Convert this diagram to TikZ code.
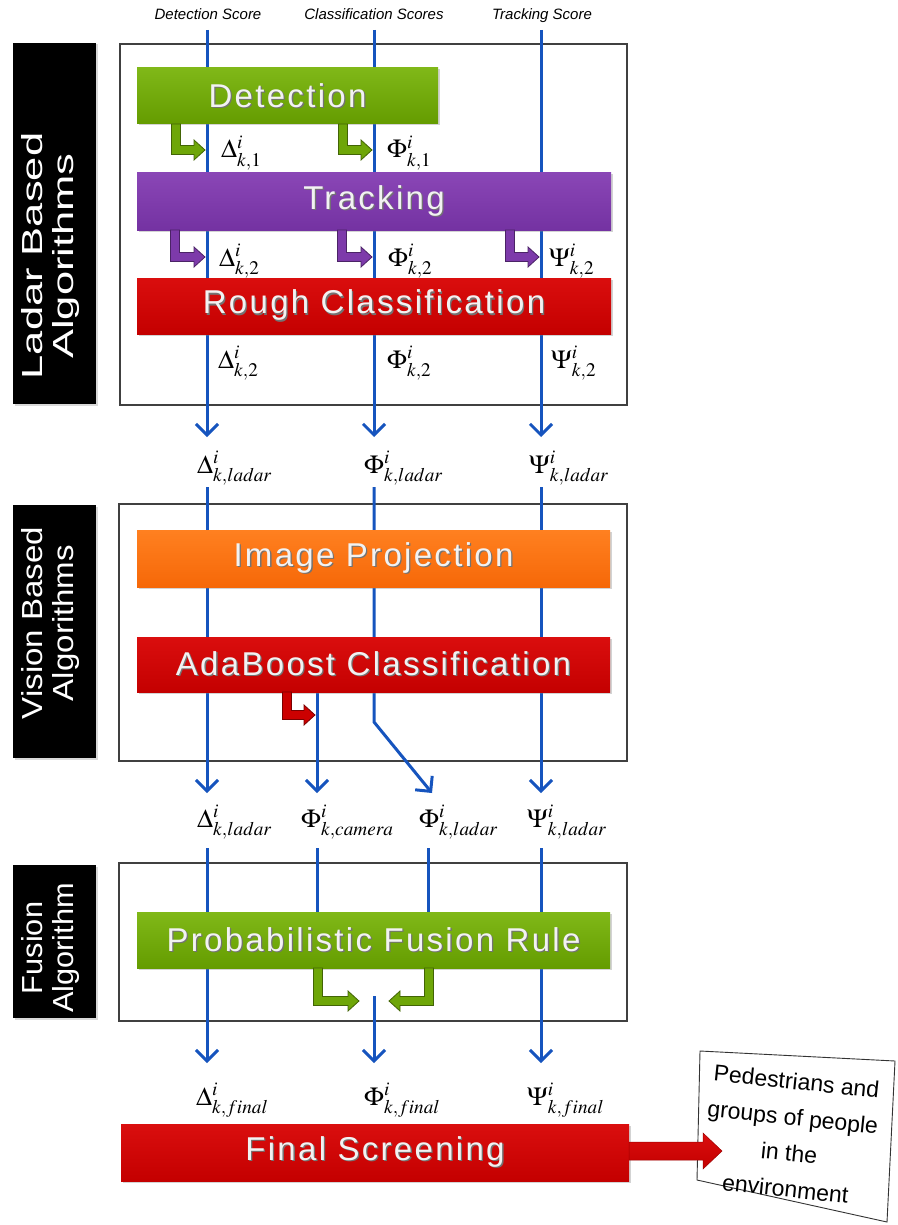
\documentclass[tikz,border=0pt]{standalone}
\usepackage{mathptmx}
\usepackage{fontspec}
\setmainfont{Liberation Sans}
\newfontfamily\boxfont[LetterSpace=7]{Liberation Sans}
\usetikzlibrary{arrows.meta,shadows}
\definecolor{blu}{RGB}{22,84,190}
\definecolor{grnT}{RGB}{128,184,24}
\definecolor{grnB}{RGB}{100,156,0}
\definecolor{grn}{RGB}{110,166,8}
\definecolor{purT}{RGB}{138,70,182}
\definecolor{purB}{RGB}{116,50,162}
\definecolor{pur}{RGB}{125,58,170}
\definecolor{redT}{RGB}{218,14,14}
\definecolor{redB}{RGB}{196,0,0}
\definecolor{rd}{RGB}{204,0,0}
\definecolor{orT}{RGB}{255,128,32}
\definecolor{orB}{RGB}{246,104,8}
\newcommand\shtxt[1]{\rlap{\kern1.3pt\raisebox{-1.3pt}{\color{black!55}#1}}#1}
% L-shaped thick arrow: #1 colour, #2 x, #3 y0, #4 y1, #5 tip x, #6 direction (1 or -1)
\newcommand\Larr[6]{%
  \filldraw[fill=#1, draw=#1!60!black, line width=0.8pt]
    ({#2-#6*4.5},#3) -- ({#2-#6*4.5},{#4+4.5}) -- ({#5-#6*11},{#4+4.5}) -- ({#5-#6*11},{#4+10})
    -- (#5,#4) -- ({#5-#6*11},{#4-10}) -- ({#5-#6*11},{#4-4.5}) -- ({#2+#6*4.5},{#4-4.5})
    -- ({#2+#6*4.5},#3) -- cycle;}
\begin{document}
\begin{tikzpicture}[x=1pt,y=-1pt,
  bline/.style={line width=3pt, draw=blu},
  barb/.style={-{Straight Barb[length=11pt,width=22pt]}},
  frame/.style={draw=black!75, line width=1.3pt},
  proc/.style={inner sep=0pt, text=white!95!black, font=\boxfont\fontsize{33}{36}\selectfont,
     drop shadow={shadow xshift=1.5pt,shadow yshift=-1.5pt,opacity=0.35}},
  sidebox/.style={fill=black, inner sep=0pt, drop shadow={shadow xshift=1.5pt,shadow yshift=-1.5pt,opacity=0.3}},
  sidetxt/.style={rotate=90, text=white, align=center, inner sep=0pt, font=\fontsize{29}{31}\selectfont},
  lab/.style={anchor=base west, inner sep=0pt, font=\fontsize{26}{28}\selectfont},
  toplab/.style={font=\itshape\fontsize{15}{17}\selectfont, anchor=base, inner sep=0pt},
  outtxt/.style={font=\fontsize{23}{36}\selectfont, inner sep=0pt, align=center}]
\useasboundingbox (0,0) rectangle (897,1225);

% section frames
\draw[frame] (120,44) rectangle (627,405);
\draw[frame] (119,504) rectangle (627,761);
\draw[frame] (119,863) rectangle (627,1021);

% side labels
\node[sidebox, minimum width=83pt, minimum height=361pt] (sL) at (54.5,223.5) {};
\node[sidetxt] (sLt) at (51,256) {\scalebox{1.5}[1]{Ladar Based}\\\scalebox{1.5}[1]{Algorithms}};
\node[sidebox, minimum width=83pt, minimum height=253pt] (sV) at (54.5,631.5) {};
\node[sidetxt] (sVt) at (51,623) {\scalebox{1.14}[1]{Vision Based}\\\scalebox{1.14}[1]{Algorithms}};
\node[sidebox, minimum width=83pt, minimum height=153pt] (sF) at (54.5,941.5) {};
\node[sidetxt] (sFt) at (51,948) {\scalebox{1.06}[1]{Fusion}\\\scalebox{1.06}[1]{Algorithm}};

% top labels
\node[toplab] (tD) at (208,20) {Detection Score};
\node[toplab] (tC) at (374,20) {Classification Scores};
\node[toplab] (tT) at (542,20) {Tracking Score};

% coordinates for connectors
\coordinate (aT) at (207,30); \coordinate (bT) at (374,30); \coordinate (cT) at (541,30);
\coordinate (aL) at (207,437); \coordinate (bL) at (374,437); \coordinate (cL) at (541,437);
\coordinate (aV) at (207,487); \coordinate (bV) at (374,487); \coordinate (cV) at (541,487);
\coordinate (bK) at (374,722);
\coordinate (aE) at (207,793); \coordinate (mE) at (317,793); \coordinate (nE) at (432,793); \coordinate (cE) at (541,793);
\coordinate (mS) at (317,692);
\coordinate (aF) at (207,848); \coordinate (mF) at (317,848); \coordinate (nF) at (428,848); \coordinate (cF) at (541,848);
\coordinate (mP) at (317,912); \coordinate (nP) at (428,912);
\coordinate (bP) at (374,996);
\coordinate (aZ) at (207,1063); \coordinate (bZ) at (374,1063); \coordinate (cZ) at (541,1063);

% blue flow lines
\draw[bline,barb] (aT) -- (aL);
\draw[bline,barb] (bT) -- (bL);
\draw[bline,barb] (cT) -- (cL);
\draw[bline,barb] (aV) -- (aE);
\draw[bline,barb] (mS) -- (mE);
\draw[bline,barb] (bV) -- (bK) -- (nE);
\draw[bline,barb] (cV) -- (cE);
\draw[bline,barb] (aF) -- (aZ);
\draw[bline] (mF) -- (mP);
\draw[bline] (nF) -- (nP);
\draw[bline,barb] (bP) -- (bZ);
\draw[bline,barb] (cF) -- (cZ);

% process boxes
\node[proc, top color=grnT, bottom color=grnB, minimum width=301pt, minimum height=56pt] (det) at (287.5,96) {\shtxt{Detection}};
\node[proc, top color=purT, bottom color=purB, minimum width=474pt, minimum height=57pt] (trk) at (374,201.5) {\shtxt{Tracking}};
\node[proc, top color=redT, bottom color=redB, minimum width=474pt, minimum height=56pt] (rgh) at (374,306) {\shtxt{Rough Classification}};
\node[proc, top color=orT, bottom color=orB, minimum width=473pt, minimum height=57pt] (img) at (373.5,558.5) {\shtxt{Image Projection}};
\node[proc, top color=redT, bottom color=redB, minimum width=473pt, minimum height=55pt] (ada) at (373.5,664.5) {\shtxt{AdaBoost Classification}};
\node[proc, top color=grnT, bottom color=grnB, minimum width=473pt, minimum height=56pt] (prb) at (373.5,940) {\shtxt{Probabilistic Fusion Rule}};
\node[proc, top color=redT, bottom color=redB, minimum width=508pt, minimum height=57pt] (fin) at (375,1152.5) {\shtxt{Final Screening}};

% L-shaped output arrows
\Larr{grn}{176}{124}{150}{205}{1}
\Larr{grn}{343}{124}{150}{372}{1}
\Larr{pur}{175}{230}{257}{205}{1}
\Larr{pur}{342}{230}{257}{372}{1}
\Larr{pur}{510}{230}{257}{539}{1}
\Larr{rd}{287}{692}{715}{315}{1}
\Larr{grn}{318}{968}{1001}{359}{1}
\Larr{grn}{429}{968}{1001}{389}{-1}

% symbol labels
\node[lab] (d1) at (221,158) {$\Delta^{i}_{k,1}$};
\node[lab] (p1) at (387,158) {$\Phi^{i}_{k,1}$};
\node[lab] (d2) at (219,266) {$\Delta^{i}_{k,2}$};
\node[lab] (p2) at (388,266) {$\Phi^{i}_{k,2}$};
\node[lab] (s2) at (549,266) {$\Psi^{i}_{k,2}$};
\node[lab] (d3) at (218,368) {$\Delta^{i}_{k,2}$};
\node[lab] (p3) at (387,368) {$\Phi^{i}_{k,2}$};
\node[lab] (s3) at (551,368) {$\Psi^{i}_{k,2}$};
\node[lab] (d4) at (197,473) {$\Delta^{i}_{k,ladar}$};
\node[lab] (p4) at (364,473) {$\Phi^{i}_{k,ladar}$};
\node[lab] (s4) at (529,473) {$\Psi^{i}_{k,ladar}$};
\node[lab] (d5) at (197,827) {$\Delta^{i}_{k,ladar}$};
\node[lab] (pc5) at (301,827) {$\Phi^{i}_{k,camera}$};
\node[lab] (pl5) at (419,827) {$\Phi^{i}_{k,ladar}$};
\node[lab] (s5) at (527,827) {$\Psi^{i}_{k,ladar}$};
\node[lab] (d6) at (196,1105) {$\Delta^{i}_{k,final}$};
\node[lab] (p6) at (364,1105) {$\Phi^{i}_{k,final}$};
\node[lab] (s6) at (527,1105) {$\Psi^{i}_{k,final}$};

% output card
\filldraw[draw=black!80, fill=white, line width=0.9pt] (700,1051) -- (895,1061) -- (887,1222) -- (697,1180) -- cycle;
\node[outtxt, rotate=-6] (out) at (791,1135) {Pedestrians and\\groups of people\\in the\\environment};

% final output arrow (drawn over the card)
\shade[top color=redT, bottom color=redB, draw=redB!80!black, line width=0.5pt]
  (629,1142) -- (703,1142) -- (703,1133) -- (722,1151) -- (703,1169) -- (703,1160) -- (629,1160) -- cycle;
\coordinate (outA) at (722,1151);
\end{tikzpicture}
\end{document}
